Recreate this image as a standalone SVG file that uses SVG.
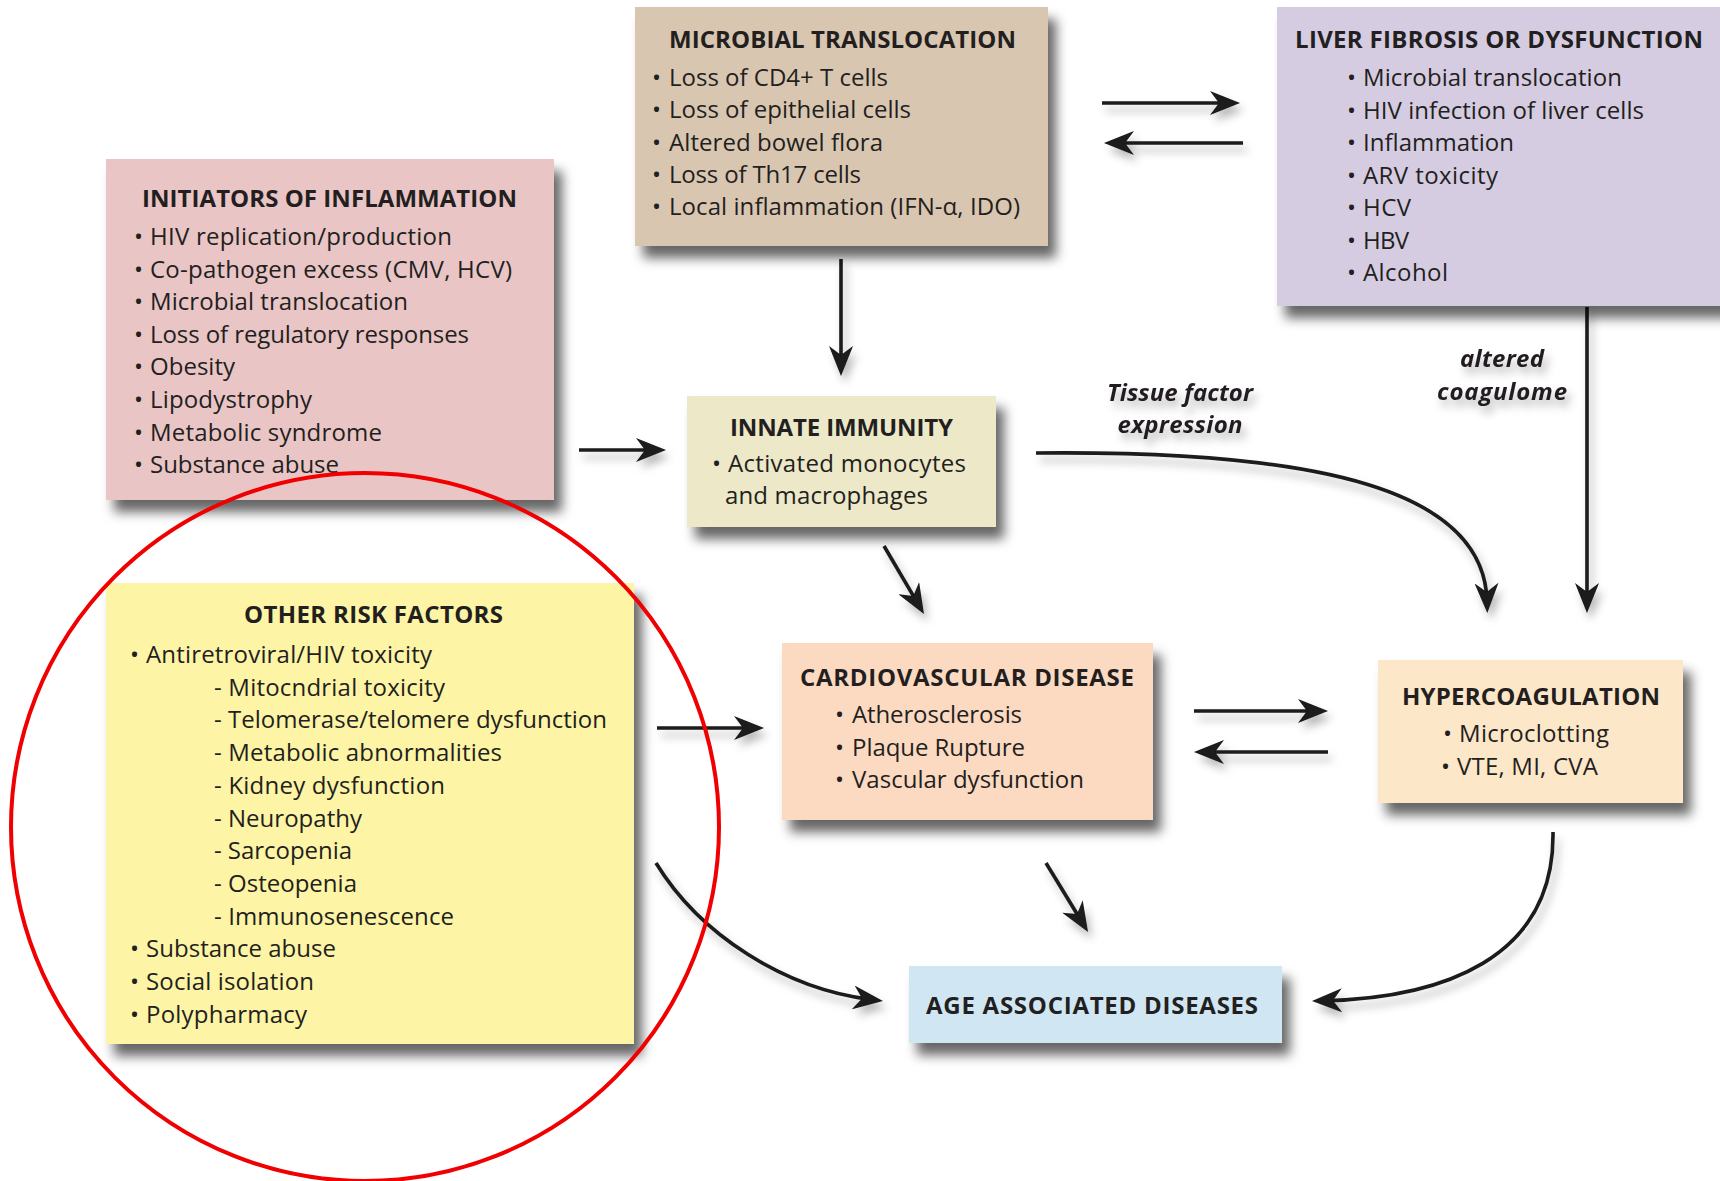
<svg xmlns="http://www.w3.org/2000/svg" width="1720" height="1181" viewBox="0 0 1720 1181">
<defs>
<filter id="sh" x="-10%" y="-10%" width="130%" height="140%">
<feDropShadow dx="8" dy="12" stdDeviation="6" flood-color="#000" flood-opacity="0.6"/>
</filter>
<filter id="ash" x="-20%" y="-20%" width="140%" height="140%">
<feDropShadow dx="4" dy="7" stdDeviation="4" flood-color="#000" flood-opacity="0.28"/>
</filter>
<marker id="ah" viewBox="0 0 30 24" refX="18" refY="12" markerWidth="30" markerHeight="24" markerUnits="userSpaceOnUse" orient="auto">
<path d="M0,0 L30,12 L0,24 L9,12 Z" fill="#1a1a1a"/>
</marker>
</defs>
<style>
text{font-family:"Open Sans","Noto Sans","Liberation Sans",sans-serif;font-size:24px;fill:#231f20}
.t{font-weight:700}
.lb{font-weight:700;font-style:italic;text-anchor:middle}
.box{filter:url(#sh)}
.c{fill:none;stroke:#1a1a1a;stroke-width:3.6;marker-end:url(#ah)}
</style>
<rect width="1720" height="1181" fill="#fff"/>

<g id="connectors" filter="url(#ash)">
<path class="c" d="M1102,103 L1228,103"/>
<path class="c" d="M1243,143 L1116,143"/>
<path class="c" d="M841,259 L841,364"/>
<path class="c" d="M579,450 L654,450"/>
<path class="c" d="M884,546 L917.9,603.7"/>
<path class="c" d="M1036,453 C1320,450 1484,490 1487,601"/>
<path class="c" d="M1587,307 L1587,601"/>
<path class="c" d="M657,728 L752,728"/>
<path class="c" d="M1194,711 L1316,711"/>
<path class="c" d="M1328,752 L1206,752"/>
<path class="c" d="M1046,863 L1081.8,921.8"/>
<path class="c" d="M656,863 C700,935 785,989 871,999.6"/>
<path class="c" d="M1553,832 C1555,960 1440,998 1324,1000.7"/>
<text class="lb" x="1180" y="401" textLength="146">Tissue factor</text>
<text class="lb" x="1180" y="433" textLength="125">expression</text>
<text class="lb" x="1502" y="367" textLength="84">altered</text>
<text class="lb" x="1502" y="400" textLength="130">coagulome</text>
</g>

<g id="initiators">
<rect class="box" x="106" y="159" width="448" height="341" fill="#e9c5c5"/>
<text class="t" x="142" y="207" textLength="375">INITIATORS OF INFLAMMATION</text>
<text x="134" y="245">•</text><text x="150" y="245" textLength="302">HIV replication/production</text>
<text x="134" y="277.6">•</text><text x="150" y="277.6" textLength="362">Co-pathogen excess (CMV, HCV)</text>
<text x="134" y="310.2">•</text><text x="150" y="310.2" textLength="258">Microbial translocation</text>
<text x="134" y="342.8">•</text><text x="150" y="342.8" textLength="319">Loss of regulatory responses</text>
<text x="134" y="375.4">•</text><text x="150" y="375.4" textLength="85">Obesity</text>
<text x="134" y="408">•</text><text x="150" y="408" textLength="162">Lipodystrophy</text>
<text x="134" y="440.6">•</text><text x="150" y="440.6" textLength="232">Metabolic syndrome</text>
<text x="134" y="473.2">•</text><text x="150" y="473.2" textLength="189">Substance abuse</text>
</g>

<g id="microbial">
<rect class="box" x="635" y="7" width="413" height="239" fill="#d9c6b1"/>
<text class="t" x="669" y="48" textLength="347">MICROBIAL TRANSLOCATION</text>
<text x="652" y="86">•</text><text x="669" y="86" textLength="219">Loss of CD4+ T cells</text>
<text x="652" y="118.3">•</text><text x="669" y="118.3" textLength="242">Loss of epithelial cells</text>
<text x="652" y="150.7">•</text><text x="669" y="150.7" textLength="214">Altered bowel flora</text>
<text x="652" y="183">•</text><text x="669" y="183" textLength="192">Loss of Th17 cells</text>
<text x="652" y="215.3">•</text><text x="669" y="215.3" textLength="351">Local inflammation (IFN-α, IDO)</text>
</g>

<g id="liver">
<rect class="box" x="1277" y="7" width="460" height="299" fill="#d6cce2"/>
<text class="t" x="1295" y="48" textLength="408">LIVER FIBROSIS OR DYSFUNCTION</text>
<text x="1347" y="86">•</text><text x="1363" y="86" textLength="259">Microbial translocation</text>
<text x="1347" y="118.5">•</text><text x="1363" y="118.5" textLength="281">HIV infection of liver cells</text>
<text x="1347" y="151">•</text><text x="1363" y="151" textLength="151">Inflammation</text>
<text x="1347" y="183.5">•</text><text x="1363" y="183.5" textLength="135">ARV toxicity</text>
<text x="1347" y="216">•</text><text x="1363" y="216" textLength="48">HCV</text>
<text x="1347" y="248.5">•</text><text x="1363" y="248.5" textLength="46">HBV</text>
<text x="1347" y="281">•</text><text x="1363" y="281" textLength="85">Alcohol</text>
</g>

<g id="innate">
<rect class="box" x="687" y="396" width="309" height="131" fill="#ece8c8"/>
<text class="t" x="730" y="436" textLength="223">INNATE IMMUNITY</text>
<text x="712" y="472">•</text><text x="728" y="472" textLength="238">Activated monocytes</text>
<text x="725" y="504" textLength="203">and macrophages</text>
</g>

<g id="other-risk">
<rect class="box" x="106" y="583" width="528" height="461" fill="#fdf5a5"/>
<text class="t" x="244" y="623" textLength="259">OTHER RISK FACTORS</text>
<text x="130" y="663">•</text><text x="146" y="663" textLength="286">Antiretroviral/HIV toxicity</text>
<text x="214" y="695.7" textLength="231">- Mitocndrial toxicity</text>
<text x="214" y="728.4" textLength="393">- Telomerase/telomere dysfunction</text>
<text x="214" y="761.1" textLength="288">- Metabolic abnormalities</text>
<text x="214" y="793.8" textLength="231">- Kidney dysfunction</text>
<text x="214" y="826.5" textLength="148">- Neuropathy</text>
<text x="214" y="859.2" textLength="138">- Sarcopenia</text>
<text x="214" y="891.9" textLength="143">- Osteopenia</text>
<text x="214" y="924.6" textLength="240">- Immunosenescence</text>
<text x="130" y="957.3">•</text><text x="146" y="957.3" textLength="190">Substance abuse</text>
<text x="130" y="990">•</text><text x="146" y="990" textLength="168">Social isolation</text>
<text x="130" y="1022.7">•</text><text x="146" y="1022.7" textLength="161">Polypharmacy</text>
</g>

<g id="cardio">
<rect class="box" x="782" y="643" width="371" height="177" fill="#fcdac2"/>
<text class="t" x="800" y="686" textLength="334">CARDIOVASCULAR DISEASE</text>
<text x="835" y="723">•</text><text x="852" y="723" textLength="170">Atherosclerosis</text>
<text x="835" y="755.5">•</text><text x="852" y="755.5" textLength="173">Plaque Rupture</text>
<text x="835" y="788">•</text><text x="852" y="788" textLength="232">Vascular dysfunction</text>
</g>

<g id="hypercoag">
<rect class="box" x="1378" y="660" width="305" height="143" fill="#fde7c9"/>
<text class="t" x="1402" y="705" textLength="258">HYPERCOAGULATION</text>
<text x="1443" y="742">•</text><text x="1459" y="742" textLength="150">Microclotting</text>
<text x="1441" y="775">•</text><text x="1457" y="775" textLength="141">VTE, MI, CVA</text>
</g>

<g id="age">
<rect class="box" x="909" y="966" width="373" height="77" fill="#d0e7f3"/>
<text class="t" x="926" y="1014" textLength="332">AGE ASSOCIATED DISEASES</text>
</g>

<g id="highlight">
<circle cx="365" cy="827" r="354" fill="none" stroke="#f00000" stroke-width="4"/>
</g>
</svg>
